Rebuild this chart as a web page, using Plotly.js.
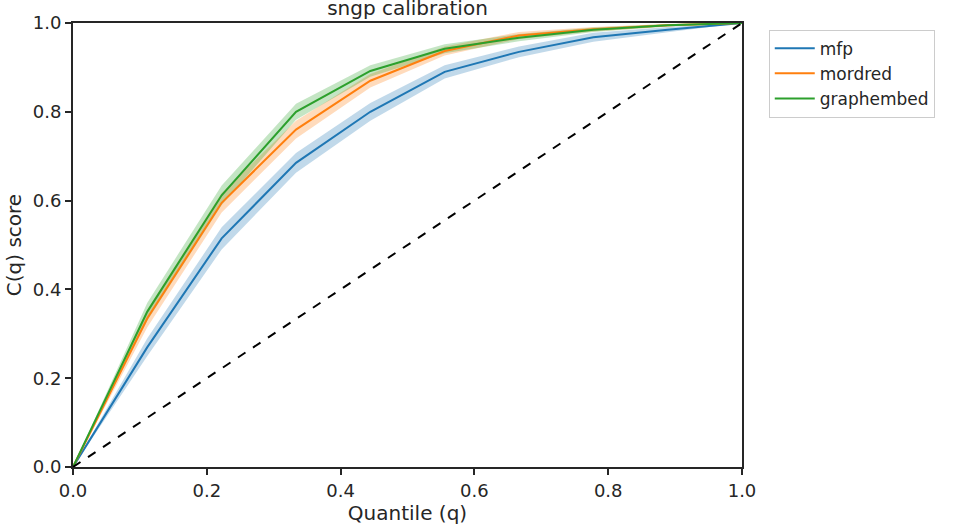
<!DOCTYPE html>
<html>
<head>
<meta charset="utf-8">
<script src="https://cdn.plot.ly/plotly-3.0.1.min.js"></script>
<style>body{margin:0}</style>
</head>
<body>
<div id="plot" style="width:959px;height:527px"></div>
<script>
"use strict"

const quantiles = [0, 1/9, 2/9, 3/9, 4/9, 5/9, 6/9, 7/9, 8/9, 1];
const mfp = [0, 0.27, 0.515, 0.685, 0.80, 0.89, 0.935, 0.968, 0.985, 1.0];
const mfpErr = [0, 0.02, 0.025, 0.022, 0.02, 0.015, 0.012, 0.01, 0.006, 0];
const mordred = [0, 0.335, 0.595, 0.76, 0.87, 0.937, 0.972, 0.986, 0.995, 1.0];
const mordredErr = [0, 0.02, 0.022, 0.02, 0.015, 0.01, 0.008, 0.005, 0.003, 0];
const graphembed = [0, 0.35, 0.612, 0.80, 0.892, 0.942, 0.967, 0.985, 0.995, 1.0];
const graphembedErr = [0, 0.02, 0.022, 0.018, 0.013, 0.01, 0.008, 0.005, 0.003, 0];

function band(y, err, color) {
    const upper = y.map((v, i) => v + err[i]);
    const lower = y.map((v, i) => v - err[i]);
    return [
        {x: quantiles, y: lower, mode: 'lines', line: {width: 0}, showlegend: false, hoverinfo: 'skip'},
        {x: quantiles, y: upper, mode: 'lines', line: {width: 0}, fill: 'tonexty', fillcolor: color, showlegend: false, hoverinfo: 'skip'}
    ];
}

function series(y, name, color) {
    return {x: quantiles, y: y, mode: 'lines', name: name, line: {color: color, width: 2}};
}

const data = [
    ...band(mfp, mfpErr, 'rgba(31,119,180,0.28)'),
    ...band(mordred, mordredErr, 'rgba(255,127,14,0.28)'),
    ...band(graphembed, graphembedErr, 'rgba(44,160,44,0.28)'),
    series(mfp, 'mfp', '#1f77b4'),
    series(mordred, 'mordred', '#ff7f0e'),
    series(graphembed, 'graphembed', '#2ca02c'),
    {x: [0, 1], y: [0, 1], mode: 'lines', line: {color: 'black', width: 2, dash: 'dash'}, showlegend: false}
];

const axis = {
    range: [0, 1], showgrid: false, zeroline: false, showline: true, mirror: true,
    linecolor: '#262626', linewidth: 1.8, ticks: 'outside', ticklen: 6, tickwidth: 1.5,
    tickcolor: '#262626', dtick: 0.2, tickformat: '.1f', tickfont: {size: 18, color: '#262626'}
};

const layout = {
    width: 959, height: 527,
    margin: {l: 73, r: 217, t: 23, b: 60},
    font: {family: 'DejaVu Sans', color: '#262626'},
    title: {text: 'sngp calibration', font: {size: 20}, x: 0.5, xref: 'paper', xanchor: 'center', y: 0.998, yanchor: 'top'},
    xaxis: Object.assign({}, axis, {title: {text: 'Quantile (q)', font: {size: 20}, standoff: 2}}),
    yaxis: Object.assign({}, axis, {title: {text: 'C(q) score', font: {size: 20}, standoff: 6}}),
    legend: {x: 1.04, y: 0.985, xanchor: 'left', yanchor: 'top', bordercolor: '#cccccc', borderwidth: 1,
             font: {size: 17}, traceorder: 'normal', itemwidth: 40},
    plot_bgcolor: 'white', paper_bgcolor: 'white'
};

Plotly.newPlot('plot', data, layout, {displayModeBar: false});
</script>
</body>
</html>
